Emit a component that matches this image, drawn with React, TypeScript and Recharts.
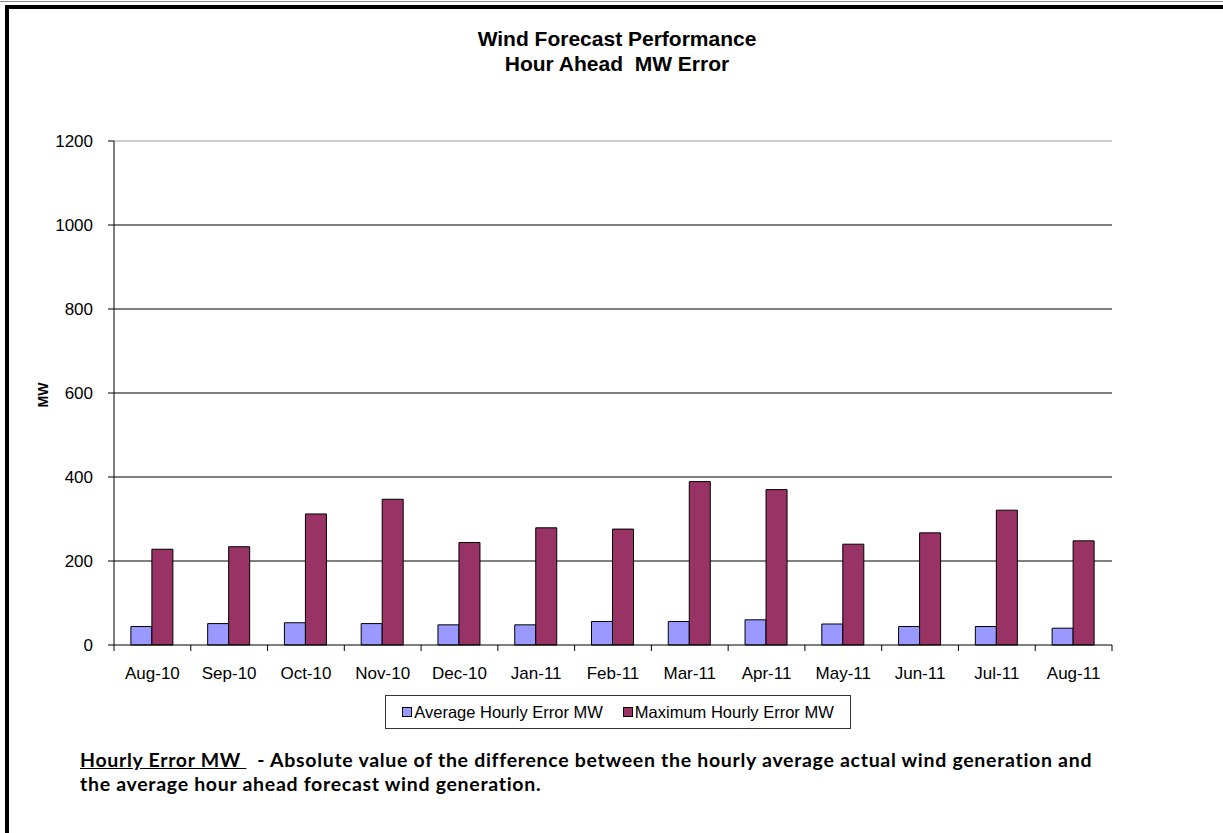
import React from 'react';
import { BarChart, Bar, XAxis, YAxis, CartesianGrid, Legend, ReferenceLine } from 'recharts';

const months = ['Aug-10', 'Sep-10', 'Oct-10', 'Nov-10', 'Dec-10', 'Jan-11', 'Feb-11', 'Mar-11', 'Apr-11', 'May-11', 'Jun-11', 'Jul-11', 'Aug-11'];
const avgError = [44, 51, 53, 51, 48, 48, 56, 56, 60, 50, 44, 44, 40];
const maxError = [228, 234, 312, 347, 244, 279, 276, 389, 370, 240, 267, 321, 248];
const yTicks = [0, 200, 400, 600, 800, 1000, 1200];
const gridTicks = [200, 400, 600, 800, 1000];

const data = months.map((m, i) => ({ month: m, avg: avgError[i], max: maxError[i] }));

const AVG_COLOR = '#9999FF';
const MAX_COLOR = '#993366';
const FONT = 'Arial, "Liberation Sans", sans-serif';

const CategoryTick = (props: any) => {
  const { x, y, payload, index } = props;
  const off = payload && payload.offset ? payload.offset : 0;
  return (
    <g>
      <line x1={x - off} x2={x - off} y1={645} y2={651} stroke="#000" strokeWidth={1} />
      {index === months.length - 1 && (
        <line x1={x + off} x2={x + off} y1={645} y2={651} stroke="#000" strokeWidth={1} />
      )}
      <text x={x} y={y} textAnchor="middle" fontFamily={FONT} fontSize={17} fill="#000">
        <tspan x={x} dy="0.71em">{payload.value}</tspan>
      </text>
    </g>
  );
};

const LegendContent = () => (
  <div style={{ height: 35, position: 'relative' }}>
    <div
      style={{
        position: 'absolute',
        top: 0,
        left: 0,
        width: 464,
        height: 32,
        border: '1px solid #333',
        display: 'flex',
        alignItems: 'center',
        justifyContent: 'center',
        fontFamily: FONT,
        fontSize: 16.5,
        color: '#000',
      }}
    >
      <span style={{ display: 'inline-block', width: 8, height: 8, background: AVG_COLOR, border: '1px solid #000', marginRight: 2 }} />
      <span style={{ marginRight: 20 }}>Average Hourly Error MW</span>
      <span style={{ display: 'inline-block', width: 8, height: 8, background: MAX_COLOR, border: '1px solid #000', marginRight: 2 }} />
      <span>Maximum Hourly Error MW</span>
    </div>
  </div>
);

export default function App() {
  return (
    <div style={{ position: 'absolute', left: 0, top: 0, width: 1223, height: 833, background: '#fff', overflow: 'hidden' }}>
      {/* frame */}
      <div style={{ position: 'absolute', left: 0, top: 1, width: 1223, height: 1, background: '#888' }} />
      <div style={{ position: 'absolute', left: 5, top: 5, width: 1218, height: 4, background: '#000' }} />
      <div style={{ position: 'absolute', left: 5, top: 5, width: 4, height: 828, background: '#000' }} />

      <div style={{ position: 'absolute', left: 0, top: 26, width: 1234, textAlign: 'center', fontFamily: FONT, fontWeight: 'bold', fontSize: 21, lineHeight: '25px', color: '#000' }}>
        <div>Wind Forecast Performance</div>
        <div>Hour Ahead&nbsp; MW Error</div>
      </div>

      <div style={{ position: 'absolute', left: 0, top: 0 }}>
        <BarChart
          width={1223}
          height={740}
          data={data}
          margin={{ top: 141, right: 111, left: 60, bottom: 10 }}
          barCategoryGap="22%"
          barGap={0}
        >
          <CartesianGrid horizontal={true} vertical={false} horizontalValues={gridTicks} stroke="#000" strokeWidth={1} />
          <ReferenceLine y={1200} stroke="#999" strokeWidth={1} />
          <XAxis
            dataKey="month"
            height={50}
            tickLine={false}
            axisLine={{ stroke: '#000' }}
            tick={<CategoryTick />}
            tickMargin={16}
            interval={0}
          />
          <YAxis
            width={54}
            domain={[0, 1200]}
            ticks={yTicks}
            tickSize={6}
            tickMargin={15}
            axisLine={{ stroke: '#000' }}
            tickLine={{ stroke: '#000' }}
            tick={{ fontFamily: FONT, fontSize: 17, fill: '#000' }}
          />
          <YAxis
            yAxisId="right"
            orientation="right"
            width={0}
            domain={[0, 1200]}
            ticks={yTicks}
            tick={false}
            tickLine={false}
            axisLine={{ stroke: '#999' }}
          />
          <Legend
            verticalAlign="bottom"
            content={<LegendContent />}
            wrapperStyle={{ left: 385, width: 466 }}
          />
          <Bar dataKey="avg" name="Average Hourly Error MW" fill={AVG_COLOR} stroke="#000" strokeWidth={1} isAnimationActive={false} />
          <Bar dataKey="max" name="Maximum Hourly Error MW" fill={MAX_COLOR} stroke="#000" strokeWidth={1} isAnimationActive={false} />
        </BarChart>
      </div>

      <div style={{ position: 'absolute', left: 43, top: 395, transform: 'translate(-50%, -50%) rotate(-90deg)', transformOrigin: 'center', fontFamily: FONT, fontWeight: 'bold', fontSize: 14, color: '#000' }}>
        MW
      </div>

      <div style={{ position: 'absolute', left: 80, top: 748, fontFamily: 'Lato, sans-serif', fontWeight: 'bold', fontSize: 19.5, letterSpacing: 0.7, lineHeight: '24px', color: '#000', whiteSpace: 'nowrap' }}>
        <div>
          <span style={{ textDecoration: 'underline' }}>Hourly Error MW&nbsp;</span>&nbsp; - Absolute value of the difference between the hourly average actual wind generation and
        </div>
        <div>the average hour ahead forecast wind generation.</div>
      </div>
    </div>
  );
}
